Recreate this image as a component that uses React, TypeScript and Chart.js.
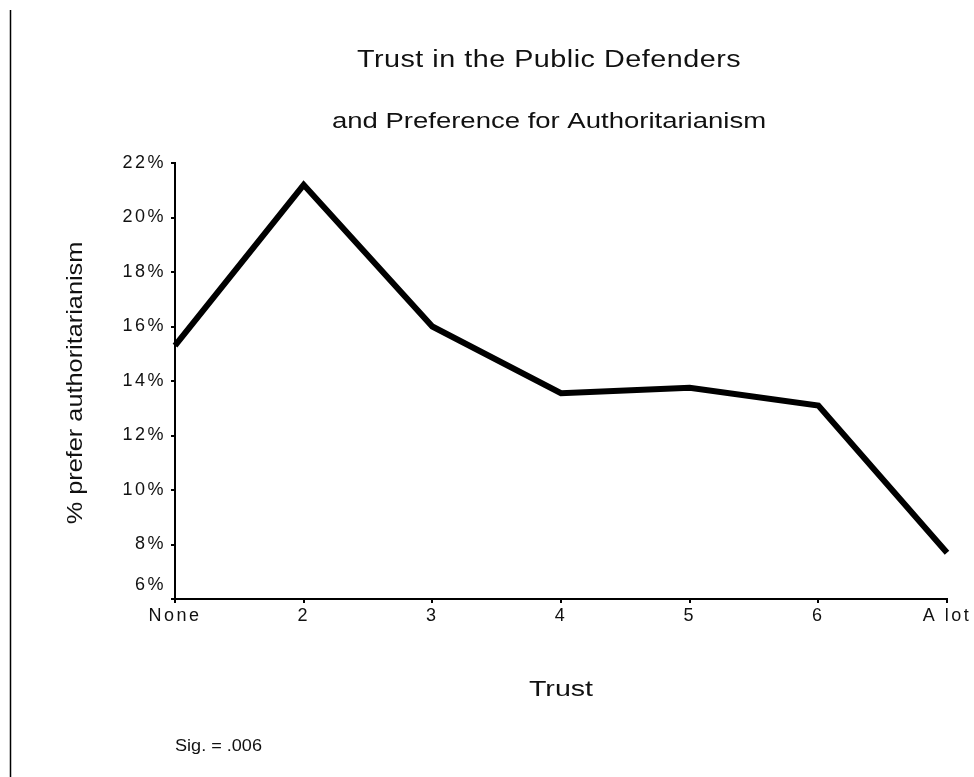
import { useEffect, useRef } from "react";
import { Chart, registerables } from "chart.js";

Chart.register(...registerables);

const categories = ["None", "2", "3", "4", "5", "6", "A lot"];
const preferAuthoritarianism = [15.3, 21.2, 16.0, 13.55, 13.75, 13.1, 7.7];
const yMin = 6;
const yMax = 22;
const yStep = 2;
const titleLine1 = "Trust in the Public Defenders";
const titleLine2 = "and Preference for Authoritarianism";
const xTitle = "Trust";
const yTitle = "% prefer authoritarianism";
const note = "Sig. = .006";

const FONT = "'Liberation Sans', Arial, sans-serif";

function spaced(ctx: any, px: number) {
  if ("letterSpacing" in ctx) ctx.letterSpacing = `${px}px`;
}

function wideText(
  ctx: CanvasRenderingContext2D,
  text: string,
  x: number,
  y: number,
  size: number,
  sx: number,
  spacing: number,
  rotate = 0
) {
  ctx.save();
  ctx.translate(x, y);
  if (rotate) ctx.rotate(rotate);
  ctx.scale(sx, 1);
  spaced(ctx, spacing);
  ctx.font = `${size}px ${FONT}`;
  ctx.fillText(text, 0, 0);
  ctx.restore();
}

const decorPlugin = {
  id: "decor",
  beforeDraw(chart: any) {
    spaced(chart.ctx, 2.5);
  },
  afterDraw(chart: any) {
    const ctx = chart.ctx as CanvasRenderingContext2D;
    const area = chart.chartArea;
    const yScale = chart.scales.y;
    ctx.save();
    // left border line
    ctx.strokeStyle = "#000";
    ctx.lineWidth = 1.5;
    ctx.beginPath();
    ctx.moveTo(10.5, 10);
    ctx.lineTo(10.5, 777);
    ctx.stroke();

    ctx.fillStyle = "#111";
    ctx.textAlign = "center";
    ctx.textBaseline = "middle";
    wideText(ctx, titleLine1, 549, 61, 23, 1.25, 0.4);
    wideText(ctx, titleLine2, 549, 122, 22, 1.25, 0);
    wideText(ctx, xTitle, (area.left + area.right) / 2, 690, 22, 1.3, 0);
    wideText(ctx, yTitle, 76, (area.top + area.bottom) / 2 + 2, 22, 1.15, 0, -Math.PI / 2);

    // lowest y tick label, lifted above the x axis
    spaced(ctx, 2.5);
    ctx.font = `18px ${FONT}`;
    ctx.textAlign = "right";
    ctx.fillText(`${yMin}%`, area.left - 9, yScale.getPixelForValue(yMin) - 14);

    ctx.textAlign = "left";
    wideText(ctx, note, 175, 747, 16, 1.13, 0);
    ctx.restore();
  },
};

export default function App() {
  const ref = useRef<HTMLCanvasElement | null>(null);

  useEffect(() => {
    if (!ref.current) return;
    const chart = new Chart(ref.current, {
      type: "line",
      data: {
        labels: categories,
        datasets: [
          {
            data: preferAuthoritarianism,
            borderColor: "#000",
            backgroundColor: "#000",
            borderWidth: 6,
            pointRadius: 0,
            tension: 0,
            borderJoinStyle: "miter",
            borderCapStyle: "butt",
            clip: false,
          } as any,
        ],
      },
      options: {
        responsive: false,
        animation: false,
        devicePixelRatio: 1,
        layout: { padding: { left: 115, right: 27, top: 163, bottom: 138 } },
        plugins: {
          legend: { display: false },
          title: { display: false },
          tooltip: { enabled: false },
        },
        scales: {
          x: {
            type: "category",
            offset: false,
            afterFit: (s: any) => {
              s.height = 40;
            },
            grid: {
              display: true,
              drawOnChartArea: false,
              drawTicks: true,
              tickLength: 4,
              color: "#000",
              lineWidth: 2,
            },
            border: { display: true, color: "#000", width: 2 },
            ticks: {
              color: "#111",
              font: { family: FONT, size: 18 },
              padding: 2,
              maxRotation: 0,
              autoSkip: false,
            },
          },
          y: {
            min: yMin,
            max: yMax,
            afterFit: (s: any) => {
              s.width = 60;
            },
            grid: {
              display: true,
              drawOnChartArea: false,
              drawTicks: true,
              tickLength: 4,
              color: "#000",
              lineWidth: 2,
            },
            border: { display: true, color: "#000", width: 2 },
            ticks: {
              stepSize: yStep,
              padding: 5,
              color: (c: any) => (c.tick && c.tick.value === yMin ? "rgba(0,0,0,0)" : "#111"),
              font: { family: FONT, size: 18 },
              callback: (v: any) => `${v}%`,
            },
          },
        },
      },
      plugins: [decorPlugin],
    });
    return () => chart.destroy();
  }, []);

  return (
    <canvas
      ref={ref}
      width={974}
      height={777}
      style={{ position: "absolute", left: 0, top: 0, width: 974, height: 777, background: "#fff" }}
    />
  );
}
